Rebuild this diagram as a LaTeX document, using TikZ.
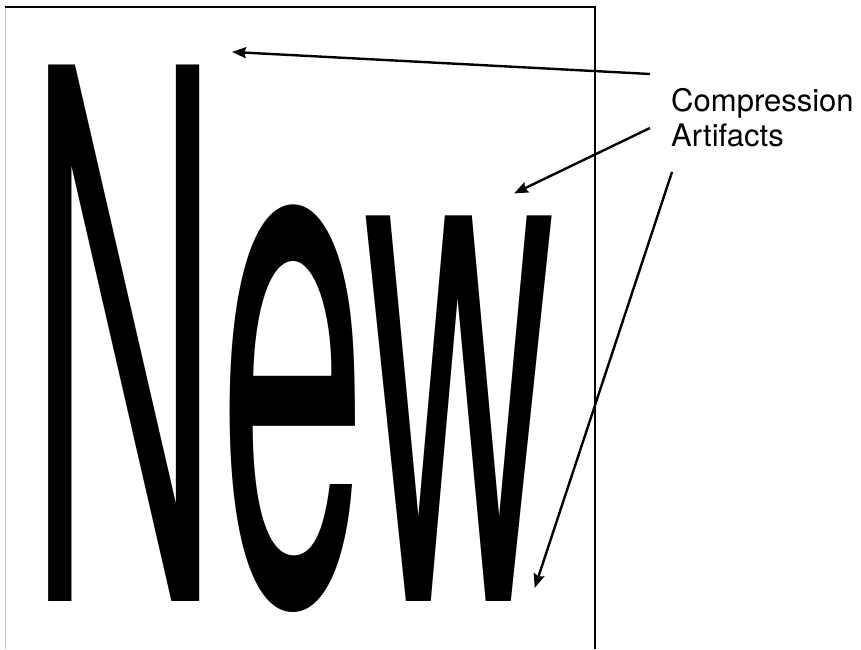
\documentclass[tikz,border=0pt]{standalone}
\usepackage{fontspec}
\setmainfont{TeX Gyre Heros}
\usetikzlibrary{arrows.meta}
\begin{document}
\begin{tikzpicture}[
      x=1pt, y=1pt,
      frameline/.style={line width=2pt, black},
      sideline/.style={line width=1pt, gray!50},
      bigword/.style={
        anchor=base west, inner sep=0pt, outer sep=0pt,
        font=\fontsize{100pt}{100pt}\selectfont
      },
      lbl/.style={
        anchor=north west, inner sep=0pt, align=left,
        font=\fontsize{31pt}{35pt}\selectfont
      },
      pointer/.style={-{Stealth[length=14pt, width=11pt, inset=2pt]},
        line width=2.4pt, black, shorten >=-1pt}
    ]
    \useasboundingbox (0,0) rectangle (861,649);

    % Frame round the sample (no bottom edge).
    \coordinate (FBL) at (5,0);
    \coordinate (FTL) at (5,642);
    \coordinate (FTR) at (595,642);
    \coordinate (FBR) at (595,0);
    \draw[sideline] (FBL) -- (FTL);
    \draw[frameline] (FTL) -- (FTR) -- (FBR);

    % The stretched sample word.
    \node[bigword] (word) at (28,48) {\scalebox{2.65}[7.36]{New}};

    % Label and its pointers.
    \node[lbl] (label) at (671,561) {Compression\\Artifacts};

    \coordinate (S1) at (650,575);
    \coordinate (S2) at (650,521);
    \coordinate (S3) at (672,477);
    \coordinate (T1) at (233,597);
    \coordinate (T2) at (515,456);
    \coordinate (T3) at (535,62);

    \draw[pointer] (S1) -- (T1);
    \draw[pointer] (S2) -- (T2);
    \draw[pointer] (S3) -- (T3);
  \end{tikzpicture}
\end{document}
